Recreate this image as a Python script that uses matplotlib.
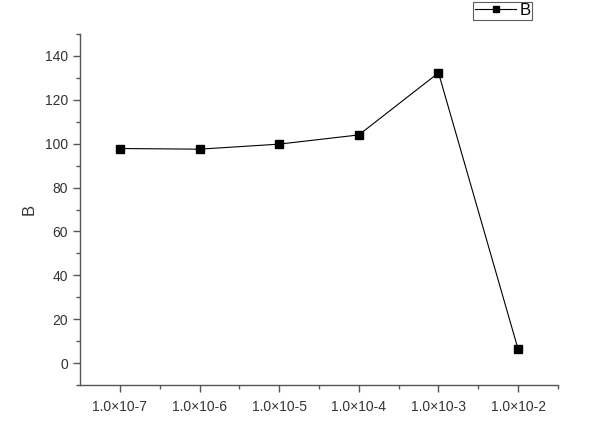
import matplotlib
matplotlib.use("Agg")
import matplotlib.pyplot as plt
from matplotlib.ticker import MultipleLocator, FixedLocator

categories = ["1.0\u00d710-7", "1.0\u00d710-6", "1.0\u00d710-5", "1.0\u00d710-4", "1.0\u00d710-3", "1.0\u00d710-2"]
values_B = [97.8, 97.5, 99.8, 104.0, 132.3, 6.2]

plt.rcParams['font.family'] = ['Liberation Sans', 'DejaVu Sans']

fig = plt.figure(figsize=(6, 4.21), dpi=100)
ax = fig.add_axes([80/600, 36/421, 478/600, 351/421])
x = list(range(len(categories)))
line, = ax.plot(x, values_B, color='black', lw=0.8, marker='s', ms=6, label='B')
ax.set_xlim(-0.5, 5.5)
ax.set_ylim(-10, 150)
ax.set_xticks(x)
ax.set_xticklabels(categories)
ax.xaxis.set_minor_locator(FixedLocator([i + 0.5 for i in x]))
ax.yaxis.set_major_locator(MultipleLocator(20))
ax.yaxis.set_minor_locator(MultipleLocator(10))
for s in ['top', 'right']:
    ax.spines[s].set_visible(False)
for s in ['left', 'bottom']:
    ax.spines[s].set_color('#555555')
    ax.spines[s].set_linewidth(1.0)
ax.tick_params(axis='both', which='major', length=5, width=1, color='#555555', labelsize=10, labelcolor='#333333')
ax.tick_params(axis='x', which='major', pad=6)
ax.tick_params(axis='both', which='minor', length=3, width=1, color='#555555')
ax.set_ylabel('B', fontsize=12, color='#333333', labelpad=6)

leg = fig.legend(handles=[line], labels=['B'], loc='lower left', bbox_to_anchor=(473/600, 1 - 20/421),
                 frameon=True, fancybox=False, fontsize=12, handlelength=2.5, borderpad=0.1,
                 handletextpad=0.2, borderaxespad=0, markerscale=0.8)
leg.get_frame().set_edgecolor('#333333')
leg.get_frame().set_linewidth(0.8)

fig.savefig('out.png', dpi=100)
